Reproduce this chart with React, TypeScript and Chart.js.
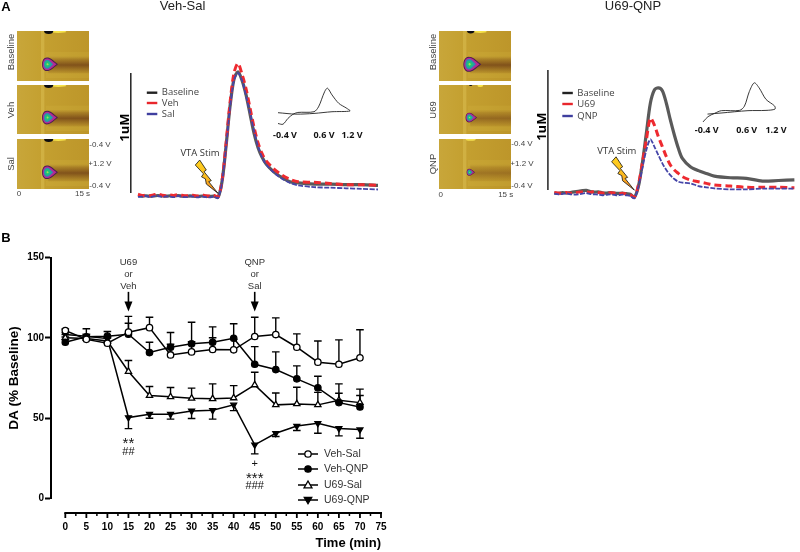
import React, { useEffect, useRef } from "react";
import Chart from "chart.js/auto";

// ---------- Panel B data ----------
const times = [0, 5, 10, 15, 20, 25, 30, 35, 40, 45, 50, 55, 60, 65, 70];
const vehSal = [104.5, 99, 96.6, 103.5, 106.3, 89.3, 91.2, 92.7, 92.5, 100.8, 102, 94.1, 84.8, 83.5, 87.5];
const vehSalErr = [105.5, 102, 100, 113.3, 112.8, 96, 97.5, 100, 99, 112.8, 112.4, 102.4, 98, 98.7, 105];
const vehQnp = [97.2, 100.6, 101, 102.2, 90.8, 94.1, 96.2, 97.2, 99.7, 83.5, 80.2, 74.4, 68.8, 59.6, 56.9];
const vehQnpErr = [99, 105.6, 103.9, 109, 97.2, 103.3, 109.7, 106.8, 108.7, 94.5, 91.2, 82.5, 76, 71.3, 64];
const u69Sal = [100, 99.5, 98, 79, 64, 63.2, 62.3, 62, 62.5, 70.6, 58.2, 58.8, 58.2, 61, 59.6];
const u69SalErr = [102, 101, 100, 85.8, 69.6, 69, 68.6, 71.3, 70.2, 78.5, 65.6, 69.2, 66, 65.4, 68];
const u69Qnp = [102, 101, 99.5, 50.3, 52.4, 52.4, 54.4, 54.8, 58.2, 33.3, 40.5, 45, 46.7, 43.5, 42.8];
const u69QnpErr = [100.5, 99, 97.5, 43.4, 49.9, 49.3, 49.7, 49.3, 54.6, 27.7, 38.5, 42.2, 40.5, 38.9, 37.4];
const xTickValues = [0, 5, 10, 15, 20, 25, 30, 35, 40, 45, 50, 55, 60, 65, 70, 75];
const yTickValues = [0, 50, 100, 150];
const groupNames = ["Veh-Sal", "Veh-QNP", "U69-Sal", "U69-QNP"];

// ---------- Panel A traces ----------
const traceTimes = [0, 0.5, 1, 1.5, 2, 2.5, 3, 3.5, 4, 4.5, 5, 5.5, 6, 6.5, 7, 7.5, 8, 8.5, 9, 9.5, 10,
  10.5, 11, 11.5, 12, 12.5, 13, 13.5, 14, 14.5, 15, 15.5, 16, 17, 18, 19, 20, 22, 24, 26, 28, 30];
const leftBaseline = [0.01, 0.005, 0.008, 0.004, 0.006, 0.01, 0.006, 0.004, 0.008, 0.005, 0.01, 0.005, 0.003, 0.007, 0.004, 0.002, 0.006, 0.003, 0.002, 0.005, -0.005,
  0.125, 0.417, 0.75, 0.98, 1.04, 0.97, 0.85, 0.69, 0.53, 0.41, 0.33, 0.275, 0.205, 0.16, 0.125, 0.115, 0.105, 0.105, 0.1, 0.1, 0.095];
const leftVeh = [0.02, 0.01, 0.012, 0.008, 0.016, 0.022, 0.012, 0.008, 0.015, 0.01, 0.018, 0.012, 0.008, 0.014, 0.01, 0.006, 0.014, 0.008, 0.006, 0.01, -0.002,
  0.13, 0.44, 0.78, 1.03, 1.11, 1.02, 0.9, 0.74, 0.58, 0.45, 0.36, 0.3, 0.23, 0.18, 0.145, 0.125, 0.12, 0.11, 0.1, 0.1, 0.095];
const leftSal = [-0.002, 0, 0.006, -0.004, 0.004, 0.006, -0.002, 0.002, 0, -0.003, 0.006, 0, -0.004, 0.002, 0, -0.006, 0.002, -0.004, -0.005, 0, -0.012,
  0.12, 0.41, 0.74, 0.97, 1.03, 0.97, 0.84, 0.7, 0.55, 0.42, 0.33, 0.27, 0.2, 0.15, 0.115, 0.095, 0.08, 0.075, 0.07, 0.065, 0.06];
const rightBaseline = [0.03, 0.028, 0.035, 0.03, 0.035, 0.04, 0.045, 0.05, 0.052, 0.042, 0.038, 0.04, 0.032, 0.03, 0.035, 0.03, 0.028, 0.03, 0.025, 0.02, -0.005,
  0.083, 0.278, 0.528, 0.778, 0.889, 0.906, 0.883, 0.778, 0.639, 0.514, 0.403, 0.319, 0.25, 0.217, 0.194, 0.172, 0.158, 0.153, 0.13, 0.135, 0.14];
const rightU69 = [0.035, 0.03, 0.03, 0.036, 0.028, 0.03, 0.038, 0.04, 0.04, 0.035, 0.045, 0.035, 0.03, 0.028, 0.032, 0.03, 0.022, 0.028, 0.022, 0.015, -0.005,
  0.097, 0.278, 0.472, 0.653, 0.597, 0.5, 0.417, 0.333, 0.264, 0.222, 0.194, 0.167, 0.139, 0.125, 0.111, 0.097, 0.089, 0.078, 0.078, 0.078, 0.075];
const rightQnp = [0.025, 0.02, 0.022, 0.028, 0.02, 0.018, 0.02, 0.025, 0.03, 0.022, 0.02, 0.018, 0.012, 0.015, 0.02, 0.015, 0.012, 0.018, 0.012, 0.005, -0.014,
  0.083, 0.236, 0.389, 0.478, 0.417, 0.347, 0.278, 0.222, 0.18, 0.147, 0.125, 0.117, 0.111, 0.089, 0.078, 0.069, 0.061, 0.061, 0.067, 0.067, 0.067];
const leftNames = ["Baseline", "Veh", "Sal"];
const rightNames = ["Baseline", "U69", "QNP"];

// ---------- Cyclic voltammograms (volts, relative current) ----------
const leftCvV = [-0.4, -0.29, -0.18, -0.07, 0.04, 0.4, 0.5, 0.57, 0.64, 0.7, 0.8, 0.95, 1.13, 1.2, 0.8, 0.4, 0, -0.4];
const leftCvI = [-0.49, -0.52, -0.28, -0.11, -0.03, 0, 0.2, 0.52, 0.85, 0.98, 0.7, 0.35, 0.14, 0.03, 0, -0.07, -0.1, -0.04];
const rightCvV = [-0.4, -0.29, -0.14, 0.01, 0.41, 0.52, 0.63, 0.74, 0.85, 1, 1.19, 1.2, 1, 0.6, 0, -0.3];
const rightCvI = [-0.44, -0.24, -0.11, -0.01, 0, 0.16, 0.72, 1.05, 0.85, 0.42, 0.17, 0.05, 0, -0.01, -0.1, -0.14];

// ---------- Colour plots: relative size of the oxidation spot and top feature ----------
const leftSpotSizes = [1, 1, 1];
const rightSpotSizes = [1.12, 0.72, 0.52];
const leftTopSizes = [1, 1, 1];
const rightTopSizes = [0.8, 0.35, 0];
const rightTailStrength = [0.72, 0.5, 0.4];
const spotColors = ["#4a1e50", "#b32a96", "#2d8fb0", "#1fc07a", "#9fe05a"];
const spotRings = [1, 0.86, 0.68, 0.46, 0.16];

const SANS = '"Liberation Sans", Arial, sans-serif';
const OPEN = '"Open Sans", sans-serif';

function label(ctx: any, text: string, x: number, y: number, font: string, color = "#333", align = "center", rot = 0) {
  ctx.save();
  ctx.translate(x, y);
  if (rot) ctx.rotate(rot);
  ctx.font = font;
  ctx.fillStyle = color;
  ctx.textAlign = align;
  ctx.textBaseline = "middle";
  ctx.fillText(text, 0, 0);
  ctx.restore();
}

const UP = -Math.PI / 2;
const plainText: any[] = [
  ["A", 6, 7, `bold 13px ${SANS}`, "#000", "center", 0],
  ["B", 6, 238, `bold 13px ${SANS}`, "#000", "center", 0],
  ["Veh-Sal", 182.5, 6.5, `13px ${SANS}`, "#222", "center", 0],
  ["U69-QNP", 633, 6.5, `13px ${SANS}`, "#222", "center", 0],
  ["Baseline", 11, 52, `9.5px ${SANS}`, "#444", "center", UP],
  ["Veh", 11, 110, `9.5px ${SANS}`, "#444", "center", UP],
  ["Sal", 11, 164, `9.5px ${SANS}`, "#444", "center", UP],
  ["Baseline", 433, 52, `9.5px ${SANS}`, "#444", "center", UP],
  ["U69", 433, 110, `9.5px ${SANS}`, "#444", "center", UP],
  ["QNP", 433, 164, `9.5px ${SANS}`, "#444", "center", UP],
  ["-0.4 V", 100, 144.7, `8px ${SANS}`, "#444", "center", 0],
  ["+1.2 V", 100, 164, `8px ${SANS}`, "#444", "center", 0],
  ["-0.4 V", 100, 185.5, `8px ${SANS}`, "#444", "center", 0],
  ["-0.4 V", 522, 143.5, `8px ${SANS}`, "#444", "center", 0],
  ["+1.2 V", 522, 164, `8px ${SANS}`, "#444", "center", 0],
  ["-0.4 V", 522, 186, `8px ${SANS}`, "#444", "center", 0],
  ["0", 19, 194, `8px ${SANS}`, "#444", "center", 0],
  ["15 s", 82.5, 194, `8px ${SANS}`, "#444", "center", 0],
  ["0", 440.7, 195, `8px ${SANS}`, "#444", "center", 0],
  ["15 s", 505.7, 195, `8px ${SANS}`, "#444", "center", 0],
];

function drawArrow(ctx: any, x: number, yTop: number, yTip: number) {
  ctx.strokeStyle = "#000";
  ctx.fillStyle = "#000";
  ctx.lineWidth = 1.6;
  ctx.beginPath();
  ctx.moveTo(x, yTop);
  ctx.lineTo(x, yTip - 6);
  ctx.stroke();
  ctx.beginPath();
  ctx.moveTo(x - 4, yTip - 10);
  ctx.lineTo(x + 4, yTip - 10);
  ctx.lineTo(x, yTip);
  ctx.closePath();
  ctx.fill();
}

const errorBarsPlugin = {
  id: "errorBars",
  beforeDatasetsDraw(chart: any) {
    const { ctx, scales } = chart;
    ctx.save();
    ctx.strokeStyle = "#000";
    ctx.lineWidth = 1.4;
    chart.data.datasets.forEach((ds: any) => {
      ds.errEnds.forEach((end: number, i: number) => {
        const x = scales.x.getPixelForValue(times[i]);
        const y0 = scales.y.getPixelForValue(ds.data[i].y);
        const y1 = scales.y.getPixelForValue(end);
        ctx.beginPath();
        ctx.moveTo(x, y0);
        ctx.lineTo(x, y1);
        ctx.moveTo(x - 3.8, y1);
        ctx.lineTo(x + 3.8, y1);
        ctx.stroke();
      });
    });
    ctx.restore();
  },
};

const figurePlugin = {
  id: "figure",
  afterDraw(chart: any) {
    const { ctx, scales } = chart;
    const X = (v: number) => scales.x.getPixelForValue(v);
    const Y = (v: number) => scales.y.getPixelForValue(v);
    ctx.save();
    // detached x axis
    const axisY = chart.chartArea.bottom + 14.7;
    ctx.strokeStyle = "#000";
    ctx.lineWidth = 2;
    ctx.beginPath();
    ctx.moveTo(X(0) - 1, axisY);
    ctx.lineTo(X(75) + 1, axisY);
    ctx.stroke();
    for (let t = 0; t <= 75; t += 2.5) {
      const major = t % 5 === 0;
      ctx.lineWidth = major ? 1.8 : 1.5;
      ctx.beginPath();
      ctx.moveTo(X(t), axisY);
      ctx.lineTo(X(t), axisY + (major ? 5 : 3));
      ctx.stroke();
    }
    // drug arrows and notes
    [[15, "U69", "or", "Veh"], [45, "QNP", "or", "Sal"]].forEach((n: any) => {
      const font = `9.5px ${SANS}`;
      label(ctx, n[1], X(n[0]), Y(147.2), font, "#333");
      label(ctx, n[2], X(n[0]), Y(139.3), font, "#333");
      label(ctx, n[3], X(n[0]), Y(131.8), font, "#333");
      drawArrow(ctx, X(n[0]), Y(128.6), Y(116.3));
    });
    label(ctx, "**", X(15), Y(34), `15px ${SANS}`, "#111");
    label(ctx, "##", X(15), Y(28.8), `11px ${SANS}`, "#111");
    label(ctx, "+", X(45), Y(21.4), `11px ${SANS}`, "#111");
    label(ctx, "***", X(45), Y(12.2), `15px ${SANS}`, "#111");
    label(ctx, "###", X(45), Y(7.7), `11px ${SANS}`, "#111");
    // legend
    chart.data.datasets.forEach((ds: any, i: number) => {
      const y = [454, 469, 485, 500][i];
      ctx.strokeStyle = "#000";
      ctx.lineWidth = 1.5;
      ctx.beginPath();
      ctx.moveTo(298, y);
      ctx.lineTo(318, y);
      ctx.stroke();
      ctx.fillStyle = ds.pointBackgroundColor;
      ctx.lineWidth = ds.pointBorderWidth;
      const r = ds.pointRadius;
      ctx.beginPath();
      if (ds.pointStyle === "circle") {
        ctx.arc(308, y, r, 0, Math.PI * 2);
      } else {
        const dir = ds.pointRotation ? -1 : 1;
        ctx.moveTo(308, y - dir * r * 1.1);
        ctx.lineTo(308 - r * 1.1, y + dir * r * 0.8);
        ctx.lineTo(308 + r * 1.1, y + dir * r * 0.8);
        ctx.closePath();
      }
      ctx.fill();
      ctx.stroke();
      label(ctx, groupNames[i], 324, y, `10.5px ${SANS}`, "#333", "left");
    });
    // free text of the figure
    plainText.forEach((t) => label(ctx, t[0], t[1], t[2], t[3], t[4], t[5], t[6]));
    ctx.restore();
  },
};

function mainConfig() {
  const mk = (name: string, values: number[], errs: number[], style: string, fill: string, rot = 0, r = 3.2) => ({
    label: name,
    data: times.map((x, i) => ({ x, y: values[i] })),
    errEnds: errs,
    borderColor: "#000",
    borderWidth: 1.5,
    pointStyle: style,
    pointRotation: rot,
    pointRadius: r,
    pointBorderWidth: 1.3,
    pointBorderColor: "#000",
    pointBackgroundColor: fill,
    tension: 0,
    clip: false,
  });
  return {
    type: "line",
    data: {
      datasets: [
        mk(groupNames[0], vehSal, vehSalErr, "circle", "#fff"),
        mk(groupNames[1], vehQnp, vehQnpErr, "circle", "#000"),
        mk(groupNames[2], u69Sal, u69SalErr, "triangle", "#fff", 0, 3.6),
        mk(groupNames[3], u69Qnp, u69QnpErr, "triangle", "#000", 180, 3.4),
      ],
    },
    options: {
      responsive: false,
      animation: false,
      layout: { autoPadding: false, padding: { left: 0, right: 419, top: 257.5, bottom: 0 } },
      plugins: { legend: { display: false }, tooltip: { enabled: false } },
      scales: {
        x: {
          type: "linear",
          min: -3.4,
          max: 75,
          afterBuildTicks: (s: any) => { s.ticks = xTickValues.map((value) => ({ value })); },
          afterFit: (s: any) => { s.height = 53.7; },
          grid: { display: false, drawTicks: false },
          border: { display: false },
          ticks: { autoSkip: false, maxRotation: 0, padding: 22.5, color: "#000", font: { family: SANS, size: 10, weight: "bold" } },
          title: { display: true, text: "Time (min)", align: "end", color: "#000", padding: { top: 0, bottom: 1 }, font: { family: SANS, size: 13, weight: "bold" } },
        },
        y: {
          min: 0,
          max: 150,
          afterBuildTicks: (s: any) => { s.ticks = yTickValues.map((value) => ({ value })); },
          afterFit: (s: any) => { s.width = 51; },
          grid: { drawOnChartArea: false, tickLength: 6, tickWidth: 2, tickColor: "#000" },
          border: { display: true, width: 2, color: "#000" },
          ticks: { padding: 1, color: "#000", font: { family: SANS, size: 10, weight: "bold" } },
          title: { display: true, text: "DA (% Baseline)", color: "#000", padding: { top: 6, bottom: 0 }, font: { family: SANS, size: 13.5, weight: "bold" } },
        },
      },
    },
    plugins: [errorBarsPlugin, figurePlugin],
  };
}

function drawBolt(ctx: any, tx: number, ty: number) {
  const pts = [[-18.3, -33.3], [-11.7, -23.3], [-14, -21.7], [-6.7, -12.7], [-9.3, -11.7], [0, 0], [-11.7, -9.3], [-12.6, -14.5], [-16.5, -16.5], [-14.5, -19.5], [-22.7, -28.3]];
  const g = ctx.createLinearGradient(tx, ty - 33, tx, ty);
  g.addColorStop(0, "#ffd21f");
  g.addColorStop(0.55, "#fbb81f");
  g.addColorStop(1, "#ef7f22");
  ctx.beginPath();
  pts.forEach((p, i) => (i ? ctx.lineTo(tx + p[0], ty + p[1]) : ctx.moveTo(tx + p[0], ty + p[1])));
  ctx.closePath();
  ctx.fillStyle = g;
  ctx.fill();
  ctx.strokeStyle = "#111";
  ctx.lineWidth = 0.8;
  ctx.stroke();
}

function traceConfig(p: any) {
  const pairs = (vals: number[]) => traceTimes.map((x, i) => ({ x, y: vals[i] }));
  const bar = p.barT;
  const overlay = {
    id: "traceOverlay",
    afterDraw(chart: any) {
      const { ctx, scales } = chart;
      const X = (v: number) => scales.x.getPixelForValue(v);
      const Y = (v: number) => scales.y.getPixelForValue(v);
      ctx.save();
      drawBolt(ctx, X(10), Y(p.boltV));
      label(ctx, "VTA Stim", X(10) + p.stimDx, Y(p.stimV), `9.5px ${OPEN}`, "#333");
      label(ctx, "1uM", X(bar) - p.umDx, Y(p.umV), `bold 13px ${OPEN}`, "#000", "center", UP);
      p.names.forEach((n: string, i: number) => {
        const y = p.legendY[i] - p.top;
        ctx.strokeStyle = ["#222", "#e8262c", "#3f3f9f"][i];
        ctx.lineWidth = 2.4;
        ctx.beginPath();
        ctx.moveTo(X(p.legT), y);
        ctx.lineTo(X(p.legT) + 10.5, y);
        ctx.stroke();
        label(ctx, n, X(p.legT) + 15, y, `9.5px ${OPEN}`, "#444", "left");
      });
      p.cvLabels.forEach((l: any) => label(ctx, l[0], l[1] - p.left, l[2] - p.top, `bold 9px ${OPEN}`, "#111"));
      ctx.restore();
    },
  };
  return {
    type: "line",
    data: {
      datasets: [
        { label: p.names[2], data: pairs(p.series[2]), borderColor: "#4545a8", borderWidth: 1.8, borderDash: [5, 1.5], pointRadius: 0, tension: 0.3 },
        { label: p.names[1], data: pairs(p.series[1]), borderColor: "#ee2a30", borderWidth: 3, borderDash: [7, 4], pointRadius: 0, tension: 0.3 },
        { label: p.names[0], data: pairs(p.series[0]), borderColor: "#5a5a5a", borderWidth: 3.2, pointRadius: 0, tension: 0.3 },
        { label: "scale bar", data: [{ x: bar, y: p.barV[0] }, { x: bar, y: p.barV[1] }], borderColor: "#222", borderWidth: 1.5, pointRadius: 0 },
      ],
    },
    options: {
      responsive: false,
      animation: false,
      layout: { autoPadding: false, padding: 0 },
      plugins: { legend: { display: false }, tooltip: { enabled: false } },
      scales: {
        x: { type: "linear", display: false, min: p.tMin, max: p.tMax },
        y: { type: "linear", display: false, min: -0.194, max: 1.305 },
      },
    },
    plugins: [overlay],
  };
}

function cvConfig(vs: number[], is: number[], iMin: number, iMax: number) {
  return {
    type: "scatter",
    data: { datasets: [{ label: "CV", data: vs.map((x, i) => ({ x, y: is[i] })), showLine: true, borderColor: "#222", borderWidth: 0.9, pointRadius: 0, tension: 0.3 }] },
    options: {
      responsive: false,
      animation: false,
      layout: { autoPadding: false, padding: 0 },
      plugins: { legend: { display: false }, tooltip: { enabled: false } },
      scales: {
        x: { type: "linear", display: false, min: -0.578, max: 1.378 },
        y: { type: "linear", display: false, min: iMin, max: iMax },
      },
    },
  };
}

function heatConfig(spot: number, top: number, dark: number) {
  const plugin = {
    id: "colorPlot",
    beforeDatasetsDraw(chart: any) {
      const { ctx, chartArea: a, scales } = chart;
      const X = (v: number) => scales.x.getPixelForValue(v);
      const Y = (v: number) => scales.y.getPixelForValue(v);
      ctx.save();
      ctx.beginPath();
      ctx.rect(a.left, a.top, a.right - a.left, a.bottom - a.top);
      ctx.clip();
      const base = ctx.createLinearGradient(a.left, 0, a.right, 0);
      base.addColorStop(0, "#c8a63a");
      base.addColorStop(0.35, "#c4a030");
      base.addColorStop(1, "#bd962a");
      ctx.fillStyle = base;
      ctx.fillRect(a.left, a.top, a.right - a.left, a.bottom - a.top);
      // pale bands around the tail
      ctx.fillStyle = "rgba(232,205,80,0.12)";
      ctx.fillRect(X(6), Y(0.42), X(15) - X(6), Y(0.55) - Y(0.42));
      ctx.fillRect(X(6), Y(0.84), X(15) - X(6), Y(0.94) - Y(0.84));
      // stimulation stripe
      ctx.fillStyle = "rgba(232,212,105,0.32)";
      ctx.fillRect(X(5.0), a.top, X(0.7) - X(0), a.bottom - a.top);
      // tail
      const tail = ctx.createLinearGradient(0, Y(0.5), 0, Y(0.86));
      tail.addColorStop(0, "rgba(105,55,20,0)");
      tail.addColorStop(0.5, `rgba(105,55,20,${dark})`);
      tail.addColorStop(1, "rgba(105,55,20,0)");
      ctx.fillStyle = tail;
      ctx.fillRect(X(6.5), Y(0.5), X(15) - X(6.5), Y(0.86) - Y(0.5));
      // top feature
      if (top > 0) {
        ctx.fillStyle = "#f6e24a";
        ctx.beginPath();
        ctx.ellipse(X(8.6), Y(0.015), 8 * top, 1.2, 0, 0, Math.PI * 2);
        ctx.fill();
        ctx.fillStyle = "#0c0c10";
        ctx.beginPath();
        ctx.ellipse(X(6.6), Y(0), 4.6 * top, 3 * top, 0, 0, Math.PI * 2);
        ctx.fill();
      } else {
        ctx.fillStyle = "#f4e050";
        ctx.beginPath();
        ctx.ellipse(X(6.6), Y(0.005), 5, 1.5, 0, 0, Math.PI * 2);
        ctx.fill();
      }
      // oxidation spot
      const cx = X(6.35);
      const cy = Y(0.665);
      spotColors.forEach((c, i) => {
        const k = spot * spotRings[i];
        const h = 6.8 * k;
        const l = 7 * k;
        const r = 10.5 * k * (i < 2 ? 1 : 0.8);
        ctx.fillStyle = c;
        ctx.beginPath();
        ctx.moveTo(cx + r, cy);
        ctx.bezierCurveTo(cx + r * 0.5, cy - h * 0.6, cx + r * 0.3, cy - h, cx - l * 0.1, cy - h);
        ctx.bezierCurveTo(cx - l, cy - h, cx - l, cy + h, cx - l * 0.1, cy + h);
        ctx.bezierCurveTo(cx + r * 0.3, cy + h, cx + r * 0.5, cy + h * 0.6, cx + r, cy);
        ctx.closePath();
        ctx.fill();
      });
      ctx.restore();
    },
  };
  return {
    type: "scatter",
    data: { datasets: [{ label: "peak", data: [{ x: 6.35, y: 0.665 }], pointRadius: 0 }] },
    options: {
      responsive: false,
      animation: false,
      layout: { autoPadding: false, padding: 0 },
      plugins: { legend: { display: false }, tooltip: { enabled: false } },
      scales: {
        x: { type: "linear", display: false, min: 0, max: 15 },
        y: { type: "linear", display: false, min: 0, max: 1, reverse: true },
      },
    },
    plugins: [plugin],
  };
}

function Panel({ left, top, width, height, make }: any) {
  const ref = useRef<HTMLCanvasElement>(null);
  useEffect(() => {
    const chart = new Chart(ref.current as any, make());
    return () => chart.destroy();
  }, []);
  return <canvas ref={ref} width={width} height={height} style={{ position: "absolute", left, top, width, height }} />;
}

const leftTrace = {
  series: [leftBaseline, leftVeh, leftSal], names: leftNames, tMin: -3, tMax: 32, left: 114, top: 40,
  barT: -0.9, barV: [0.03, 1.03], boltV: 0.028, stimDx: -18, stimV: 0.365, umDx: 6, umV: 0.576,
  legT: 1.1, legendY: [92.7, 103, 114],
  cvLabels: [["-0.4 V", 285, 135], ["0.6 V", 324, 135], ["1.2 V", 352, 135]],
};
const rightTrace = {
  series: [rightBaseline, rightU69, rightQnp], names: rightNames, tMin: -3.0375, tMax: 30.7, left: 530, top: 40,
  barT: -0.8, barV: [0.055, 1.055], boltV: 0.055, stimDx: -17.5, stimV: 0.378, umDx: 6, umV: 0.583,
  legT: 1, legendY: [93, 104, 116],
  cvLabels: [["-0.4 V", 706.7, 130.7], ["0.6 V", 746.7, 130.7], ["1.2 V", 776, 130.7]],
};
const heatTops = [31, 85, 139];
const heatHeights = [50, 49, 50];

export default function App() {
  return (
    <div style={{ position: "absolute", left: 0, top: 0, width: 800, height: 552, background: "#fff", overflow: "hidden" }}>
      <Panel left={0} top={0} width={800} height={552} make={mainConfig} />
      {heatTops.map((t, i) => (
        <Panel key={"l" + i} left={17} top={t} width={72} height={heatHeights[i]} make={() => heatConfig(leftSpotSizes[i], leftTopSizes[i], 0.72)} />
      ))}
      {heatTops.map((t, i) => (
        <Panel key={"r" + i} left={439} top={t} width={72} height={heatHeights[i]} make={() => heatConfig(rightSpotSizes[i], rightTopSizes[i], rightTailStrength[i])} />
      ))}
      <Panel left={114} top={40} width={280} height={180} make={() => traceConfig(leftTrace)} />
      <Panel left={530} top={40} width={270} height={180} make={() => traceConfig(rightTrace)} />
      <Panel left={270} top={80} width={88} height={50} make={() => cvConfig(leftCvV, leftCvI, -0.76, 1.32)} />
      <Panel left={695} top={76} width={88} height={52} make={() => cvConfig(rightCvV, rightCvI, -0.67, 1.31)} />
    </div>
  );
}
